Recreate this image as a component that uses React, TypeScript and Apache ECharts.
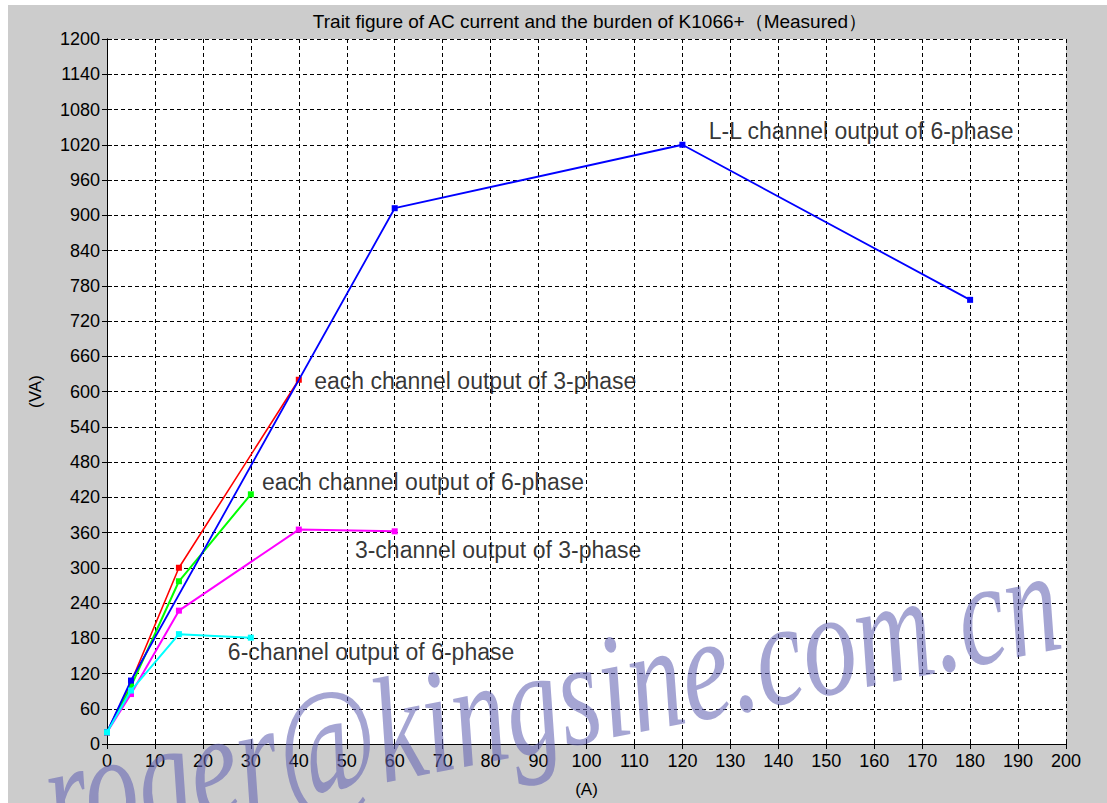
import React, { useEffect, useRef } from "react";
import * as echarts from "echarts";

const title = "Trait figure of AC current and the burden of K1066+（Measured）";
const xName = "(A)";
const yName = "(VA)";

const llX = [0, 5, 60, 120, 180];
const llY = [20, 108, 912, 1020, 756];
const each3X = [0, 5, 15, 40];
const each3Y = [20, 105, 300, 620];
const each6X = [0, 5, 15, 30];
const each6Y = [20, 98, 277, 425];
const ch3X = [0, 5, 15, 40, 60];
const ch3Y = [20, 85, 227, 365, 362];
const ch6X = [0, 5, 15, 30];
const ch6Y = [20, 91, 187, 181];

const labelTexts = [
  "L-L channel output of 6-phase",
  "each channel output of 3-phase",
  "each channel output of 6-phase",
  "3-channel output of 3-phase",
  "6-channel output of 6-phase",
];
const labelX = [125.5, 43.2, 32.3, 51.7, 25.2];
const labelY = [1043, 618, 446, 330, 157];

const watermark = "roger@kingsine.com.cn";

const zip = (xs: number[], ys: number[]) => xs.map((x, i) => [x, ys[i]]);

const SANS = "'Liberation Sans', Arial, sans-serif";

export default function App() {
  const ref = useRef<HTMLDivElement>(null);
  useEffect(() => {
    if (!ref.current) return;
    const chart = echarts.init(ref.current, undefined, { renderer: "svg" });
    const mkLine = (name: string, xs: number[], ys: number[], color: string, z: number, w: number) => ({
      name,
      type: "line",
      data: zip(xs, ys),
      symbol: "rect",
      symbolSize: 6,
      z,
      lineStyle: { color, width: w },
      itemStyle: { color },
      silent: true,
    });
    const tick = { show: true, inside: true, length: 5, lineStyle: { color: "#000" } };
    chart.setOption({
      animation: false,
      backgroundColor: "#ffffff",
      textStyle: { fontFamily: SANS },
      title: {
        text: title,
        left: 585,
        top: 7,
        textAlign: "center",
        textStyle: { fontFamily: SANS, fontSize: 19, fontWeight: "normal", color: "#000" },
      },
      grid: { left: 107, right: 41, top: 39, bottom: 59, show: true, backgroundColor: "#fff", borderWidth: 0 },
      xAxis: [
        {
          type: "value",
          min: 0,
          max: 200,
          interval: 10,
          name: xName,
          nameLocation: "middle",
          nameGap: 37,
          nameTextStyle: { fontFamily: SANS, fontSize: 17, color: "#000" },
          axisLine: { show: true, lineStyle: { color: "#000", width: 1 } },
          axisTick: tick,
          axisLabel: { fontFamily: SANS, fontSize: 18, color: "#000", margin: 8, formatter: (v: number) => String(v) },
          splitLine: { show: true, lineStyle: { color: "#000", type: [4, 3], width: 1 } },
        },
        {
          type: "value",
          position: "top",
          min: 0,
          max: 200,
          interval: 10,
          axisLine: { show: true, lineStyle: { color: "#000", width: 1 } },
          axisTick: tick,
          axisLabel: { show: false },
          splitLine: { show: false },
        },
      ],
      yAxis: [
        {
          type: "value",
          min: 0,
          max: 1200,
          interval: 60,
          name: yName,
          nameLocation: "middle",
          nameGap: 63,
          nameTextStyle: { fontFamily: SANS, fontSize: 17, color: "#000" },
          axisLine: { show: true, lineStyle: { color: "#000", width: 1 } },
          axisTick: tick,
          axisLabel: { fontFamily: SANS, fontSize: 18, color: "#000", margin: 7, formatter: (v: number) => String(v) },
          splitLine: { show: true, lineStyle: { color: "#000", type: [4, 3], width: 1 } },
        },
        {
          type: "value",
          position: "right",
          min: 0,
          max: 1200,
          interval: 60,
          axisLine: { show: true, lineStyle: { color: "#000", width: 1 } },
          axisTick: tick,
          axisLabel: { show: false },
          splitLine: { show: false },
        },
      ],
      graphic: [
        {
          type: "rect",
          z: -10,
          silent: true,
          shape: { x: 8, y: 5, width: 1107, height: 803 },
          style: { fill: "#cccccc" },
        },
        {
          type: "text",
          z: 100,
          silent: true,
          x: 60,
          y: 872,
          rotation: 0.195,
          scaleX: 0.72,
          style: {
            text: watermark,
            font: "italic 150px 'Liberation Serif', 'DejaVu Serif', serif",
            fill: "rgba(100,100,180,0.58)",
            textVerticalAlign: "bottom",
          },
        },
      ],
      series: [
        mkLine("each channel output of 3-phase", each3X, each3Y, "#ff0000", 2, 1.6),
        mkLine("each channel output of 6-phase", each6X, each6Y, "#00ff00", 3, 2),
        mkLine("3-channel output of 3-phase", ch3X, ch3Y, "#ff00ff", 4, 2),
        mkLine("L-L channel output of 6-phase", llX, llY, "#0000ff", 5, 1.8),
        mkLine("6-channel output of 6-phase", ch6X, ch6Y, "#00ffff", 6, 2),
        {
          type: "scatter",
          symbolSize: 0,
          silent: true,
          z: 10,
          data: labelTexts.map((t, i) => ({ value: [labelX[i], labelY[i]], name: t })),
          label: {
            show: true,
            position: [0, 0],
            align: "left",
            verticalAlign: "middle",
            formatter: (p: any) => p.name,
            fontFamily: SANS,
            fontSize: 23,
            color: "#000",
          },
        },
      ],
    });
    return () => chart.dispose();
  }, []);
  return (
    <div
      ref={ref}
      style={{ position: "absolute", left: 0, top: 0, width: 1107, height: 803 }}
    />
  );
}
